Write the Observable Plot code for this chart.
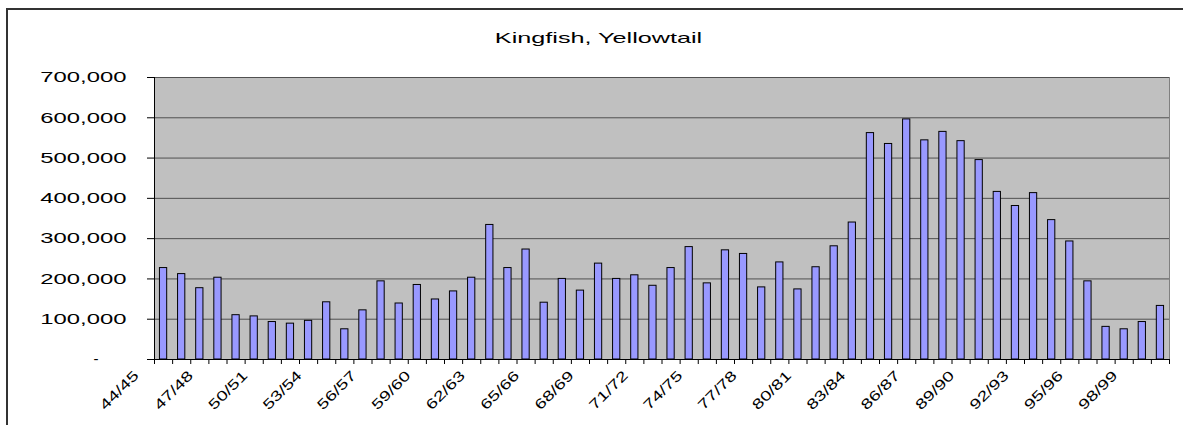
<!DOCTYPE html>
<html><head><meta charset="utf-8">
<script src="https://cdn.jsdelivr.net/npm/d3@7"></script>
<script src="https://cdn.jsdelivr.net/npm/@observablehq/plot@0.6"></script>
<style>
html,body{margin:0;padding:0;background:#fff;overflow:hidden;}
#wrap{position:relative;width:1183px;height:425px;overflow:hidden;}
#border{position:absolute;left:6px;top:8px;width:1300px;height:500px;border-left:2px solid #333;border-top:2px solid #333;}
#wrap svg{position:absolute;left:0;top:0;}
</style></head><body><div id="wrap"><div id="border"></div></div>
<script>
const seasons = ["44/45","45/46","46/47","47/48","48/49","49/50","50/51","51/52","52/53","53/54",
  "54/55","55/56","56/57","57/58","58/59","59/60","60/61","61/62","62/63","63/64",
  "64/65","65/66","66/67","67/68","68/69","69/70","70/71","71/72","72/73","73/74",
  "74/75","75/76","76/77","77/78","78/79","79/80","80/81","81/82","82/83","83/84",
  "84/85","85/86","86/87","87/88","88/89","89/90","90/91","91/92","92/93","93/94",
  "94/95","95/96","96/97","97/98","98/99","99/00"];
const catchValues = [227000,212000,177000,203000,110000,107000,93000,89000,96000,142000,
  75000,122000,194000,139000,185000,149000,169000,203000,334000,227000,
  273000,141000,200000,171000,238000,200000,209000,183000,227000,279000,
  189000,271000,262000,179000,241000,174000,229000,281000,340000,562000,
  535000,596000,544000,565000,542000,495000,416000,381000,413000,346000,
  293000,194000,81000,75000,93000,133000];
const labelSeasons = ["44/45","47/48","50/51","53/54","56/57","59/60","62/63","65/66","68/69","71/72",
  "74/75","77/78","80/81","83/84","86/87","89/90","92/93","95/96","98/99"];
const yTicks = [0,100000,200000,300000,400000,500000,600000,700000];
const chartTitle = "Kingfish, Yellowtail";

const W = 1183, H = 425, ml = 154, mr = 14, mt = 77, mb = 66;
const step = (W - ml - mr) / seasons.length;
const frameCenter = ml + (W - ml - mr) / 2;
const data = seasons.map((s, i) => ({season: s, value: catchValues[i]}));
const font = "'Liberation Sans', Arial, Helvetica, sans-serif";

const chart = Plot.plot({
  width: W, height: H,
  marginLeft: ml, marginRight: mr, marginTop: mt, marginBottom: mb,
  style: {fontFamily: font, background: "transparent", overflow: "visible", color: "#000"},
  x: {type: "band", domain: seasons, paddingInner: 0.6, paddingOuter: 0.3, round: false, axis: null, label: null},
  y: {domain: [0, 700000], axis: null, label: null},
  marks: [
    Plot.frame({fill: "#c0c0c0", stroke: "#808080"}),
    Plot.gridY(yTicks.slice(1), {stroke: "#505050", strokeOpacity: 1, strokeWidth: 1}),
    Plot.barY(data, {x: "season", y: "value", fill: "#9999ff", stroke: "#000", strokeWidth: 1}),
    Plot.ruleY([0], {stroke: "#000"}),
    Plot.ruleX([seasons[0]], {dx: -step / 2, stroke: "#000"}),
    Plot.axisY({ticks: yTicks, tickSize: 7, tickPadding: 21, fontSize: 15, stroke: "#000", fill: "#000", label: null,
      tickFormat: d => d === 0 ? "" : d3.format(",")(d)}),
    Plot.text([0], {y: d => d, text: () => "-", frameAnchor: "left", dx: -56, textAnchor: "end", fontSize: 15, fill: "#000"}),
    Plot.axisX({ticks: seasons, tickSize: 5, tickFormat: () => "", dx: -step / 2, stroke: "#000", label: null}),
    Plot.axisX({ticks: [seasons[seasons.length - 1]], tickSize: 5, tickFormat: () => "", dx: step / 2, stroke: "#000", label: null}),
    Plot.text(labelSeasons, {x: d => d, text: d => d, frameAnchor: "bottom", rotate: -45, textAnchor: "end",
      dx: -24, dy: 17, fontSize: 14, fill: "#000"}),
    Plot.text([chartTitle], {text: d => d, frameAnchor: "top", dx: 598 - frameCenter, dy: -45, fontSize: 15, fill: "#000"})
  ]
});
document.getElementById("wrap").appendChild(chart);

// widen glyphs like the original (horizontally stretched) rendering
d3.select(chart).selectAll("text").each(function() {
  const t = this.textContent;
  let f = 0;
  if (/^\d{3},000$/.test(t)) f = 1.59;
  else if (/^\d\d\/\d\d$/.test(t)) f = 1.38;
  else if (t === chartTitle) f = 1.68;
  if (!f) return;
  const len = this.getComputedTextLength();
  if (len > 0) {
    this.setAttribute("textLength", (len * f).toFixed(1));
    this.setAttribute("lengthAdjust", "spacingAndGlyphs");
  }
});
</script></body></html>
